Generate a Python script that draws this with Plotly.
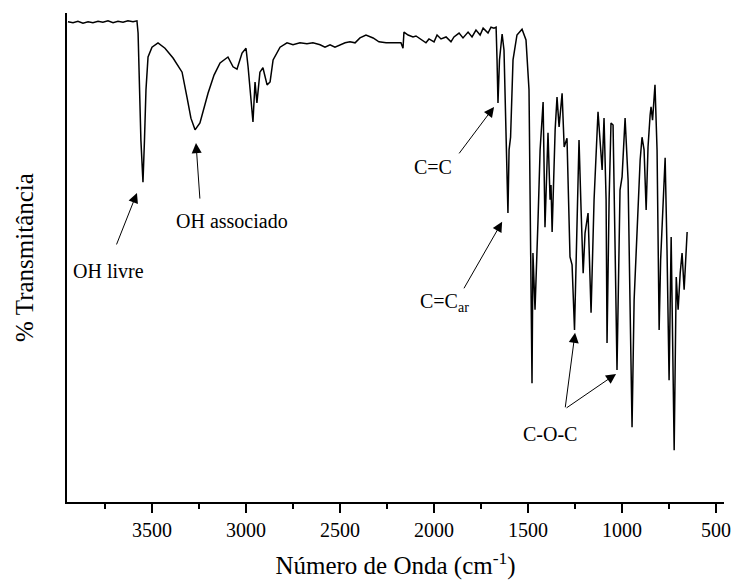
import plotly.graph_objects as go

# Wavenumber (cm-1) and % transmittance
wavenumber = [
    3947, 3920, 3894, 3867, 3840, 3814, 3787, 3761, 3734, 3707, 3681, 3654, 3628, 3601, 3580,
    3574, 3559, 3548, 3540, 3532, 3521, 3500, 3468, 3431, 3388, 3340, 3314, 3293, 3271, 3245,
    3202, 3170, 3138, 3096, 3069, 3048, 3021, 3000, 2989, 2973, 2963, 2952, 2942, 2926, 2910,
    2888, 2872,
    2856, 2819, 2782, 2750, 2713, 2676, 2644, 2606, 2580, 2553, 2527, 2500, 2473, 2447, 2420,
    2394, 2362, 2324, 2293, 2255, 2218, 2176, 2165, 2160, 2138, 2112, 2096, 2069, 2043, 2027,
    2000, 1984, 1963, 1936, 1910, 1894, 1867, 1846, 1819, 1798, 1777, 1755, 1739, 1713, 1697,
    1681, 1670,
    1665, 1660, 1652, 1638, 1628,
    1617, 1607, 1601, 1593, 1580, 1559, 1532, 1511, 1495, 1487, 1479, 1474, 1463, 1447, 1436,
    1420, 1410, 1394, 1383, 1378, 1372, 1356, 1346, 1335, 1319, 1308, 1293, 1277, 1266, 1253,
    1239, 1229, 1218, 1207, 1197, 1181, 1165, 1149, 1128, 1117, 1106, 1096, 1085, 1080, 1069,
    1059, 1048, 1037, 1027, 1011, 1000, 984, 968, 958, 947, 936, 920, 904, 894, 883,
    872, 862, 851, 846, 838, 825, 814, 803, 795, 787, 771, 761, 750, 739, 731,
    723, 712, 702, 691, 681, 670, 665, 654,
]
transmittance = [
    98.2, 98.0, 98.3, 97.9, 98.2, 98.0, 98.3, 98.1, 98.4, 98.0, 98.3, 98.1, 98.4, 98.2, 98.4,
    95.9, 74.0, 65.4, 74.0, 84.3, 91.0, 93.0, 93.9, 92.8, 90.8, 87.9, 82.8, 78.5, 76.1, 77.5,
    83.6, 87.3, 89.8, 91.0, 89.0, 88.5, 91.8, 92.8, 89.0, 82.2, 77.7, 85.9, 81.6, 87.9, 88.8,
    85.3, 85.9,
    90.4, 93.0, 93.9, 93.5, 93.9, 93.7, 93.9, 93.5, 93.0, 93.5, 93.0, 93.5, 93.9, 94.1, 93.9,
    94.9, 95.5, 94.9, 94.1, 93.9, 93.9, 93.9, 92.8, 96.1, 95.5, 95.1, 95.3, 94.5, 93.9, 94.7,
    94.1, 95.5, 94.7, 95.1, 94.1, 95.1, 95.9, 94.9, 96.1, 95.1, 96.5, 95.5, 96.9, 95.9, 97.1,
    96.9, 97.1,
    90.4, 81.6, 90.4, 95.7, 92.4,
    75.5, 59.1, 72.0, 74.6, 90.4, 95.5, 96.7, 94.5, 84.3, 51.5, 24.3, 50.9, 39.3, 57.7, 72.0,
    81.8, 56.2, 75.5, 61.8, 64.8, 55.2, 76.1, 82.8, 76.7, 83.6, 72.6, 74.4, 50.1, 48.5, 35.2,
    61.8, 74.0, 59.7, 46.8, 55.0, 59.1, 38.7, 61.8, 79.8, 74.0, 67.9, 78.5, 61.8, 32.5, 61.8,
    77.5, 77.1, 51.5, 27.0, 63.8, 66.5, 78.5, 65.8, 41.3, 15.3, 41.3, 55.6, 69.9, 74.6, 72.0,
    59.7, 72.6, 79.1, 80.8, 78.1, 85.3, 72.0, 35.2, 49.5, 57.1, 70.4, 51.5, 24.9, 54.2, 31.1,
    10.6, 46.0, 39.3, 46.8, 50.9, 43.4, 47.4, 55.2,
]
assert len(wavenumber) == len(transmittance)

x_ticks = [3500, 3000, 2500, 2000, 1500, 1000, 500]

# band labels: (text, x, y)
labels = [
    ("OH livre", 3729, 47.2),
    ("OH associado", 3074, 57.5),
    ("C=C", 2005, 68.5),
    ("C-O-C", 1383, 13.9),
]
# arrows: head (x, y) and tail offset in px
arrows = [
    (3580, 63.2, -21, 53),
    (3266, 73.4, 4, 57),
    (1681, 80.8, -36, 48),
    (1638, 57.3, -39, 68),
    (1250, 34.6, -10, 76),
    (1032, 26.2, -51, 35),
]

FONT = "Liberation Serif, Times New Roman, serif"

fig = go.Figure()
fig.add_trace(go.Scatter(
    x=wavenumber, y=transmittance, mode="lines",
    line=dict(color="black", width=1.5), showlegend=False, hoverinfo="skip",
))

annotations = []
for text, x, y in labels:
    annotations.append(dict(x=x, y=y, xref="x", yref="y", text=text, showarrow=False,
                            font=dict(family=FONT, size=20, color="black")))
annotations.append(dict(x=2085, y=40.9, xref="x", yref="y", text="C=C<sub>ar</sub>",
                        showarrow=False, xanchor="left", yanchor="middle",
                        font=dict(family=FONT, size=20, color="black")))
for hx, hy, ax, ay in arrows:
    annotations.append(dict(x=hx, y=hy, xref="x", yref="y", text="", showarrow=True,
                            ax=ax, ay=ay, arrowhead=2, arrowsize=2, arrowwidth=1,
                            arrowcolor="black", standoff=0))

fig.update_layout(
    width=732, height=580,
    margin=dict(l=67, r=8, t=13, b=78),
    paper_bgcolor="white", plot_bgcolor="white",
    font=dict(family=FONT, color="black"),
    annotations=annotations,
    xaxis=dict(
        range=[3952, 458], showgrid=False, zeroline=False, automargin=False,
        showline=True, linecolor="black", linewidth=2,
        tickmode="array", tickvals=x_ticks, ticks="outside", ticklen=9, tickwidth=2,
        tickcolor="black", tickfont=dict(family=FONT, size=20, color="black"),
        minor=dict(ticks="outside", ticklen=5, tickwidth=2, tickcolor="black",
                   tickmode="linear", tick0=250, dtick=500, showgrid=False),
        title=dict(text="Número de Onda (cm<sup>-1</sup>)", standoff=19,
                   font=dict(family=FONT, size=25, color="black")),
    ),
    yaxis=dict(
        range=[0, 100], showgrid=False, zeroline=False, automargin=False,
        showline=True, linecolor="black", linewidth=2,
        showticklabels=False, ticks="",
        title=dict(text="% Transmitância", standoff=24,
                   font=dict(family=FONT, size=25, color="black")),
    ),
)

fig.write_html("out.html")
